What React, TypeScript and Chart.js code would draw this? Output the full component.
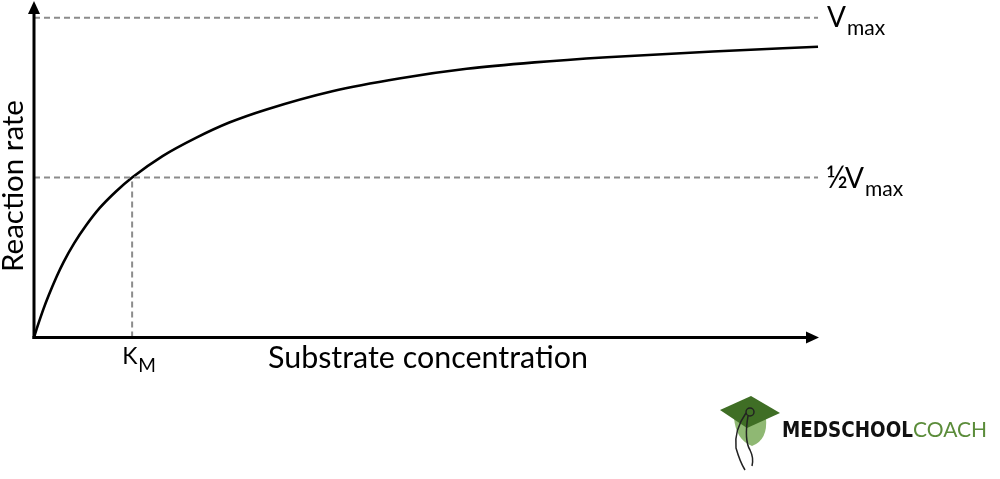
import React, { useEffect, useRef } from "react";
import Chart from "chart.js/auto";

// Substrate concentration (units of K_M) and reaction rate (units of Vmax)
const substrate = [0, 0.02, 0.05, 0.095, 0.15, 0.23, 0.3, 0.41, 0.53, 0.67, 0.83, 1.0, 1.31, 1.65, 1.99, 2.37, 3.04, 3.72, 4.41, 5.1, 5.84, 6.92, 7.99];
const rate = [0, 0.02, 0.048, 0.088, 0.132, 0.19, 0.235, 0.295, 0.35, 0.405, 0.455, 0.5, 0.567, 0.624, 0.672, 0.713, 0.77, 0.81, 0.84, 0.86, 0.876, 0.894, 0.909];

const vmax = 1;
const halfVmax = 0.5;
const km = 1.0;
const lineEnd = 7.99;
const xMax = 8.0;
const yMax = 1.052;

const xTitle = "Substrate concentration";
const yTitle = "Reaction rate";
const logoDark = "MEDSCHOOL";
const logoLight = "COACH";

const FAMILY = "Lato, 'Open Sans', sans-serif";

function fitSize(ctx: CanvasRenderingContext2D, text: string, weight: string, family: string, width: number) {
  ctx.font = `${weight} 100px ${family}`;
  const w = ctx.measureText(text).width;
  return (100 * width) / w;
}

// draw text with given font size, squeezed horizontally to a target width
function squeezed(ctx: CanvasRenderingContext2D, text: string, font: string, x: number, y: number, width: number) {
  ctx.font = font;
  const w = ctx.measureText(text).width;
  ctx.save();
  ctx.translate(x, y);
  ctx.scale(width / w, 1);
  ctx.fillText(text, 0, 0);
  ctx.restore();
}

function withSub(ctx: CanvasRenderingContext2D, main: string, sub: string, x: number, base: number, mainSize: number, subSize: number, drop: number) {
  ctx.font = `400 ${mainSize}px ${FAMILY}`;
  ctx.fillText(main, x, base);
  const w = ctx.measureText(main).width;
  ctx.font = `400 ${subSize}px ${FAMILY}`;
  ctx.fillText(sub, x + w + 1, base + drop);
}

const overlay = {
  id: "overlay",
  afterDraw(chart: any) {
    const { ctx, chartArea: a, scales } = chart;
    const xs = scales.x;
    const ys = scales.y;
    const x0 = xs.getPixelForValue(0);
    const y0 = ys.getPixelForValue(0);
    ctx.save();
    // axes
    ctx.strokeStyle = "#000";
    ctx.fillStyle = "#000";
    ctx.lineWidth = 3;
    ctx.beginPath();
    ctx.moveTo(x0, y0 + 1.5);
    ctx.lineTo(x0, a.top + 10);
    ctx.stroke();
    ctx.beginPath();
    ctx.moveTo(x0 - 1.5, y0);
    ctx.lineTo(a.right - 10, y0);
    ctx.stroke();
    ctx.beginPath();
    ctx.moveTo(x0, a.top);
    ctx.lineTo(x0 - 6, a.top + 13);
    ctx.lineTo(x0 + 6, a.top + 13);
    ctx.closePath();
    ctx.fill();
    ctx.beginPath();
    ctx.moveTo(a.right, y0);
    ctx.lineTo(a.right - 13, y0 - 6);
    ctx.lineTo(a.right - 13, y0 + 6);
    ctx.closePath();
    ctx.fill();

    ctx.textAlign = "left";
    ctx.textBaseline = "alphabetic";
    // x title
    const sz = fitSize(ctx, xTitle, "400", FAMILY, 320);
    ctx.font = `400 ${sz}px ${FAMILY}`;
    ctx.fillText(xTitle, 268, y0 + 30);
    // y title
    const szy = fitSize(ctx, yTitle, "400", FAMILY, 172);
    ctx.save();
    ctx.translate(23, 186);
    ctx.rotate(-Math.PI / 2);
    ctx.textAlign = "center";
    ctx.font = `400 ${szy}px ${FAMILY}`;
    ctx.fillText(yTitle, 0, 0);
    ctx.restore();

    // Vmax label
    const yv = ys.getPixelForValue(vmax);
    withSub(ctx, "V", "max", 827, yv + 9, 28, 21, 8);
    // half Vmax
    const yh = ys.getPixelForValue(halfVmax);
    ctx.font = `400 30px ${FAMILY}`;
    ctx.fillText("\u00BD", 826, yh + 10);
    withSub(ctx, "V", "max", 845, yh + 10, 28, 21, 8);
    // KM
    const xk = xs.getPixelForValue(km);
    withSub(ctx, "K", "M", xk - 10, y0 + 26, 23, 19, 8);

    // logo
    const cx = 750;
    ctx.fillStyle = "#8fb873";
    ctx.beginPath();
    ctx.moveTo(734, 418);
    ctx.lineTo(766, 418);
    ctx.quadraticCurveTo(768, 440, 752, 446);
    ctx.quadraticCurveTo(736, 440, 734, 418);
    ctx.fill();
    ctx.fillStyle = "#3f6e25";
    ctx.beginPath();
    ctx.moveTo(720, 410);
    ctx.lineTo(751, 396);
    ctx.lineTo(780, 413);
    ctx.lineTo(747, 428);
    ctx.closePath();
    ctx.fill();
    ctx.strokeStyle = "#222";
    ctx.lineWidth = 1.5;
    ctx.beginPath();
    ctx.arc(cx, 412, 4, 0, Math.PI * 2);
    ctx.stroke();
    ctx.beginPath();
    ctx.moveTo(746, 413);
    ctx.quadraticCurveTo(734, 430, 736, 448);
    ctx.quadraticCurveTo(740, 462, 745, 470);
    ctx.moveTo(748, 416);
    ctx.quadraticCurveTo(744, 440, 750, 450);
    ctx.quadraticCurveTo(754, 458, 752, 466);
    ctx.stroke();

    ctx.fillStyle = "#111";
    squeezed(ctx, logoDark, `700 21px 'DejaVu Sans', sans-serif`, 782, 437, 131);
    ctx.fillStyle = "#5b8c3a";
    squeezed(ctx, logoLight, `400 21px ${FAMILY}`, 913, 437, 74);
    ctx.restore();
  },
};

export default function App() {
  const ref = useRef<HTMLCanvasElement | null>(null);
  useEffect(() => {
    if (!ref.current) return;
    const dash = { borderColor: "#8c8c8c", borderWidth: 2, borderDash: [6, 4], pointRadius: 0, fill: false, clip: false as any };
    const chart = new Chart(ref.current, {
      type: "line",
      data: {
        datasets: [
          { ...dash, data: [{ x: 0, y: vmax }, { x: lineEnd, y: vmax }] },
          { ...dash, data: [{ x: 0, y: halfVmax }, { x: lineEnd, y: halfVmax }] },
          { ...dash, data: [{ x: km, y: 0 }, { x: km, y: halfVmax }] },
          {
            data: substrate.map((s, i) => ({ x: s, y: rate[i] })),
            borderColor: "#000",
            borderWidth: 2.6,
            pointRadius: 0,
            fill: false,
            cubicInterpolationMode: "monotone",
            clip: false as any,
          },
        ],
      },
      options: {
        animation: false,
        responsive: false,
        devicePixelRatio: 1,
        layout: { padding: { left: 34, right: 181, top: 1, bottom: 141.5 } },
        plugins: { legend: { display: false }, tooltip: { enabled: false } },
        scales: {
          x: { type: "linear", min: 0, max: xMax, display: false },
          y: { type: "linear", min: 0, max: yMax, display: false },
        },
      },
      plugins: [overlay],
    });
    return () => chart.destroy();
  }, []);
  return (
    <div style={{ position: "absolute", left: 0, top: 0, width: 1000, height: 479, background: "#fff" }}>
      <canvas ref={ref} width={1000} height={479} />
    </div>
  );
}
